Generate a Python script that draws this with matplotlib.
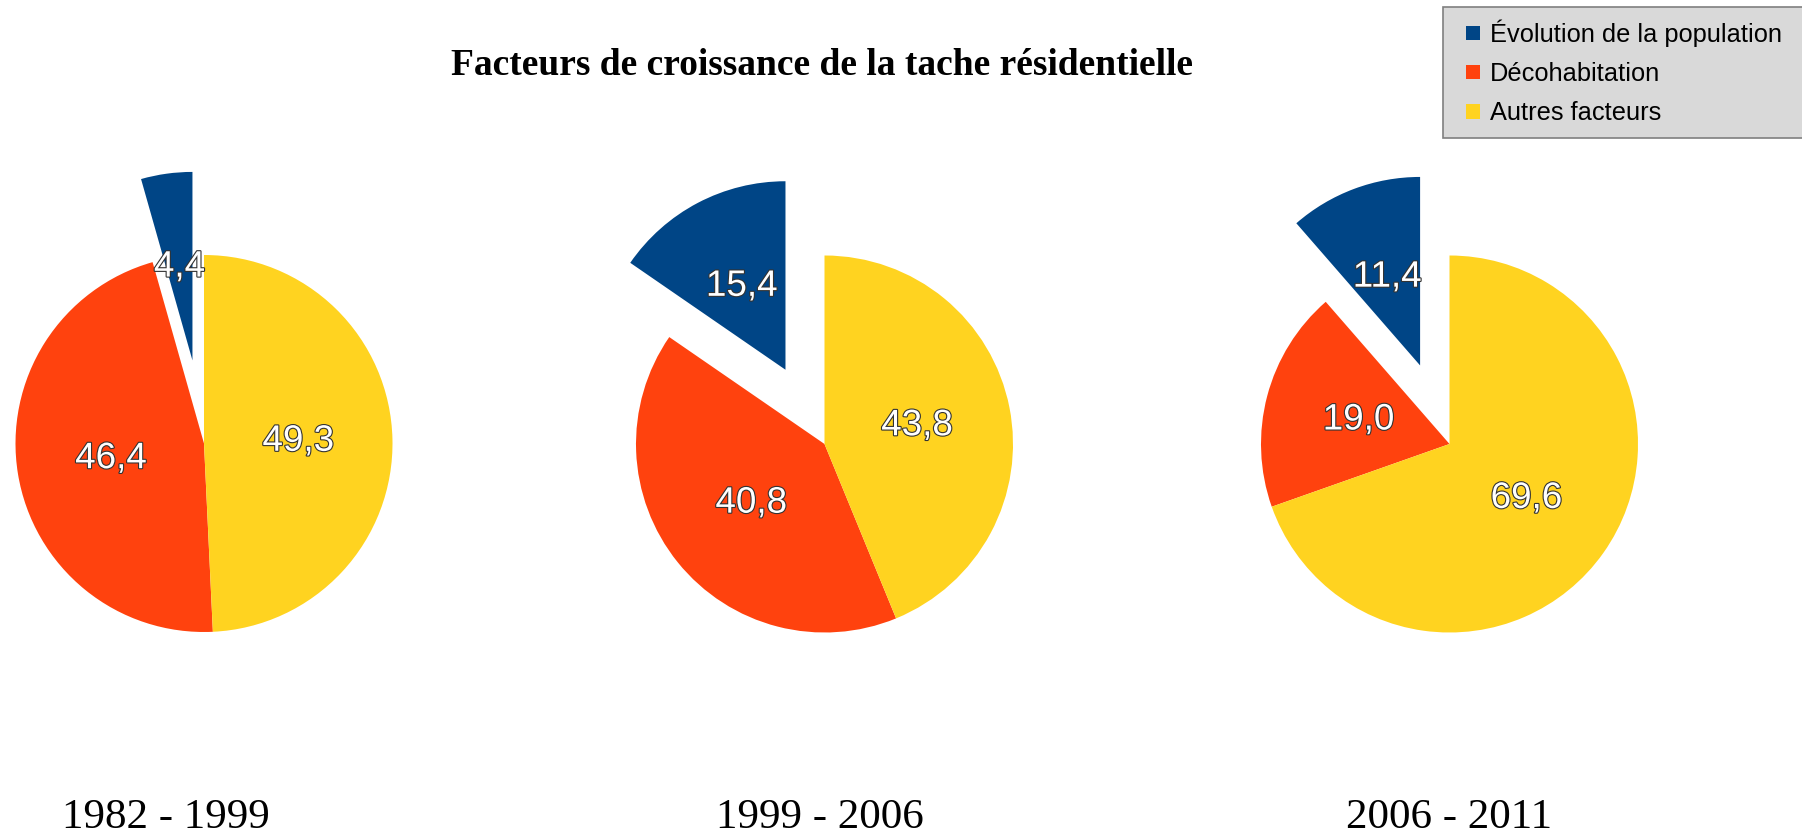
import matplotlib
matplotlib.use("Agg")
import matplotlib.pyplot as plt
import matplotlib.patches as mpatches
import matplotlib.patheffects as pe
from matplotlib.legend_handler import HandlerPatch

categories = ["Évolution de la population", "Décohabitation", "Autres facteurs"]
periods = ["1982 - 1999", "1999 - 2006", "2006 - 2011"]
evolution = [4.4, 15.4, 11.4]
decohabitation = [46.4, 40.8, 19.0]
autres = [49.3, 43.8, 69.6]
colors = ["#004586", "#ff420e", "#ffd320"]

W, H = 1802, 832
RADIUS_PX = 188.5
HALF_PX = 260
centers_px = [(204, 443.5), (824.5, 444), (1449.5, 444)]
period_x_px = [166, 820, 1449]

fig = plt.figure(figsize=(W / 100, H / 100), dpi=100)
fig.patch.set_facecolor("white")

outline = [pe.withStroke(linewidth=1.6, foreground="#333333")]


def value_label(values):
    total = sum(values)

    def fmt(pct):
        return f"{pct * total / 100:.1f}".replace(".", ",")

    return fmt


def square_handle(legend, orig_handle, xdescent, ydescent, width, height, fontsize):
    # small square pushed to the right end of the handle box
    side = 0.56 * fontsize
    return mpatches.Rectangle(
        (width - side - xdescent, -ydescent + (height - side) / 2), side, side
    )


wedges_for_legend = None
for i, (cx, cy) in enumerate(centers_px):
    ax = fig.add_axes([
        (cx - HALF_PX) / W,
        1 - (cy + HALF_PX) / H,
        2 * HALF_PX / W,
        2 * HALF_PX / H,
    ])
    values = [evolution[i], decohabitation[i], autres[i]]
    wedges, _, autotexts = ax.pie(
        values,
        colors=colors,
        startangle=90,
        counterclock=True,
        explode=[0.445, 0, 0],
        radius=1.0,
        autopct=value_label(values),
        pctdistance=0.5,
        wedgeprops=dict(linewidth=0),
        textprops=dict(
            color="white",
            fontsize=26.5,
            family=["Liberation Sans", "DejaVu Sans"],
        ),
    )
    for t in autotexts:
        t.set_path_effects(outline)
        t.set_zorder(10)
    lim = HALF_PX / RADIUS_PX
    ax.set_xlim(-lim, lim)
    ax.set_ylim(-lim, lim)
    ax.set_aspect("equal")
    ax.axis("off")
    if wedges_for_legend is None:
        wedges_for_legend = wedges

    fig.text(
        period_x_px[i] / W,
        1 - 828 / H,
        periods[i],
        ha="center",
        va="baseline",
        fontsize=31,
        family=["Liberation Serif", "DejaVu Serif"],
    )

fig.text(
    822 / W,
    1 - 75 / H,
    "Facteurs de croissance de la tache résidentielle",
    ha="center",
    va="baseline",
    fontsize=27,
    fontweight="bold",
    family=["Liberation Serif", "DejaVu Serif"],
)

legend = fig.legend(
    wedges_for_legend,
    categories,
    loc="upper left",
    bbox_to_anchor=(1443 / W, 1 - 138 / H, 0.3, 131 / H),
    mode="expand",
    borderaxespad=0,
    prop=dict(family=["Liberation Sans", "DejaVu Sans"], size=18.3),
    handler_map={mpatches.Wedge: HandlerPatch(patch_func=square_handle)},
    handlelength=0.97,
    handleheight=0.56,
    handletextpad=0.39,
    labelspacing=0.6,
    borderpad=0.49,
    fancybox=False,
    framealpha=1,
    facecolor="#d9d9d9",
    edgecolor="#7f7f7f",
)
legend.get_frame().set_linewidth(1.2)

fig.savefig("out.png", dpi=100)
